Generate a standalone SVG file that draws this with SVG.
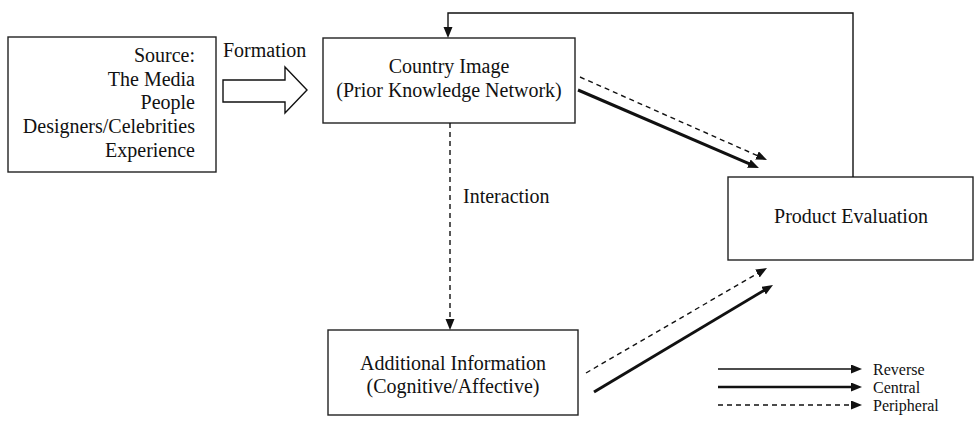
<svg xmlns="http://www.w3.org/2000/svg" width="975" height="428" viewBox="0 0 975 428">
<style>
text{font-family:"Liberation Serif","Times New Roman",serif;font-size:20px;fill:#111}
.box{fill:#fff;stroke:#222;stroke-width:1.4}
.thin{fill:none;stroke:#111;stroke-width:1.4}
.thick{fill:none;stroke:#111;stroke-width:3}
.dash{fill:none;stroke:#111;stroke-width:1.4;stroke-dasharray:5 4}
.c{text-anchor:middle}
.r{text-anchor:end}
.lg{font-size:16px}
</style>
<defs>
<marker id="ah" markerUnits="userSpaceOnUse" markerWidth="12" markerHeight="10" refX="2" refY="4.5" orient="auto">
<path d="M0,0 L11,4.5 L0,9 z" fill="#111"/>
</marker>
</defs>
<rect width="975" height="428" fill="#fff"/>
<g id="source">
<rect class="box" x="8" y="37" width="208" height="135"/>
<text class="r" x="195" y="62">Source:</text>
<text class="r" x="195" y="85.5">The Media</text>
<text class="r" x="195" y="109">People</text>
<text class="r" x="195" y="133">Designers/Celebrities</text>
<text class="r" x="195" y="157">Experience</text>
</g>
<g id="formation">
<path d="M223,80 L285,80 L285,67 L307,90 L285,113 L285,102 L223,102 Z" fill="#fff" stroke="#111" stroke-width="1.4"/>
<text x="223" y="57">Formation</text>
</g>
<g id="country">
<rect class="box" x="323" y="38" width="252" height="85"/>
<text class="c" x="449" y="72.5">Country Image</text>
<text class="c" x="449" y="97">(Prior Knowledge Network)</text>
</g>
<g id="product">
<rect class="box" x="728" y="177" width="245" height="83"/>
<text class="c" x="851" y="223">Product Evaluation</text>
</g>
<g id="additional">
<rect class="box" x="328" y="330" width="250" height="85"/>
<text class="c" x="453" y="370">Additional Information</text>
<text class="c" x="453" y="393">(Cognitive/Affective)</text>
</g>
<g id="connectors">
<path class="thin" d="M853,177 V13 H448 V29" marker-end="url(#ah)"/>
<path class="dash" d="M580,77 L758.8,156.3" marker-end="url(#ah)"/>
<path class="thick" d="M578,90 L750.7,164.4" marker-end="url(#ah)"/>
<path class="dash" d="M450,123 V321" marker-end="url(#ah)"/>
<text x="463" y="203">Interaction</text>
<path class="dash" d="M586,373 L759.2,272.5" marker-end="url(#ah)"/>
<path class="thick" d="M594,392 L765.3,289.6" marker-end="url(#ah)"/>
</g>
<g id="legend">
<path class="thin" d="M718,369 H853" marker-end="url(#ah)"/>
<path class="thick" style="stroke-width:2.7" d="M718,387 H853" marker-end="url(#ah)"/>
<path class="dash" d="M718,405 H853" marker-end="url(#ah)"/>
<text class="lg" x="873" y="375">Reverse</text>
<text class="lg" x="873" y="393">Central</text>
<text class="lg" x="873" y="411">Peripheral</text>
</g>
</svg>
